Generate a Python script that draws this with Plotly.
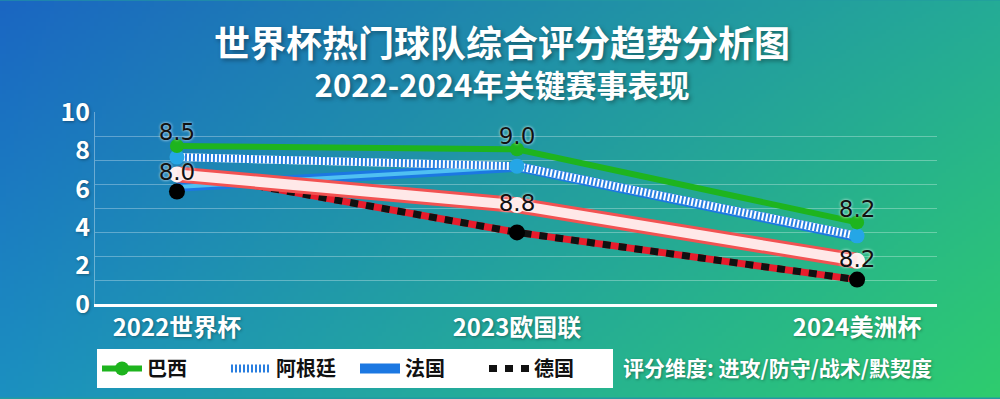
import base64
import struct
import zlib
import plotly.graph_objects as go

# ---------------- data ----------------
categories = ["2022世界杯", "2023欧国联", "2024美洲杯"]
brazil = [8.23, 8.06, 4.25]
brazil_labels = ["8.5", "9.0", "8.2"]
argentina = [7.65, 7.18, 3.55]
france = [6.1, 7.15, 3.5]
germany_line = [6.9, 3.73, 1.27]
germany_markers = [5.86, 3.73, 1.27]
highlight = [6.75, 5.15, 2.25]
highlight_labels = ["8.0", "8.8", "8.2"]
y_label_ticks = [0, 2, 4, 6, 8, 10]
grid_ticks = [0, 1.25, 2.5, 3.75, 5, 6.25, 7.5, 8.75, 10]

title_line1 = "世界杯热门球队综合评分趋势分析图"
title_line2 = "2022-2024年关键赛事表现"
note_text = "评分维度: 进攻/防守/战术/默契度"

# ---------------- geometry ----------------
W, H = 1000, 399
ML, MR, MT, MB = 95, 63, 112, 94
PW, PH = W - ML - MR, H - MT - MB


def px_x(x):
    return (x - ML) / PW


def px_y(y):
    return (H - MB - y) / PH


# ---------------- background gradient (PNG) ----------------
def make_bg(w=250, h=100):
    tl = (26, 102, 194)
    tr = (36, 171, 150)
    bl = (27, 144, 192)
    br = (46, 204, 110)
    rows = []
    for j in range(h):
        fy = j / (h - 1)
        row = bytearray([0])
        for i in range(w):
            fx = i / (w - 1)
            for k in range(3):
                v = (tl[k] * (1 - fx) * (1 - fy) + tr[k] * fx * (1 - fy)
                     + bl[k] * (1 - fx) * fy + br[k] * fx * fy)
                row.append(max(0, min(255, int(round(v)))))
        rows.append(bytes(row))
    raw = b"".join(rows)

    def chunk(t, d):
        c = struct.pack(">I", len(d)) + t + d
        return c + struct.pack(">I", zlib.crc32(t + d) & 0xffffffff)

    png = (b"\x89PNG\r\n\x1a\n"
           + chunk(b"IHDR", struct.pack(">IIBBBBB", w, h, 8, 2, 0, 0, 0))
           + chunk(b"IDAT", zlib.compress(raw, 9))
           + chunk(b"IEND", b""))
    return "data:image/png;base64," + base64.b64encode(png).decode()


FONT = "Noto Sans CJK SC"
LABEL_FONT = "DejaVu Sans"

fig = go.Figure()

# France: blue tube
fig.add_trace(go.Scatter(x=categories, y=france, mode="lines", name="法国",
                         line=dict(color="#1c78e2", width=10), legendrank=3))
fig.add_trace(go.Scatter(x=categories, y=france, mode="lines", showlegend=False,
                         line=dict(color="#4fc0f2", width=4), hoverinfo="skip"))

# Germany: black / red dashed
fig.add_trace(go.Scatter(x=categories, y=germany_line, mode="lines", showlegend=False,
                         line=dict(color="#e81c2c", width=7), hoverinfo="skip"))
fig.add_trace(go.Scatter(x=categories, y=germany_line, mode="lines", name="德国",
                         line=dict(color="#111111", width=7, dash="8px,8px"),
                         legendrank=4))

# highlight red/white tube
fig.add_trace(go.Scatter(x=categories, y=highlight, mode="lines+markers", showlegend=False,
                         line=dict(color="#f25252", width=16),
                         marker=dict(color="#fdf0f0", size=16), hoverinfo="skip"))
fig.add_trace(go.Scatter(x=categories, y=highlight, mode="lines", showlegend=False,
                         line=dict(color="#ffe8e8", width=10), hoverinfo="skip"))

# Argentina: white/blue stripes
fig.add_trace(go.Scatter(x=categories, y=argentina, mode="lines", showlegend=False,
                         line=dict(color="#ffffff", width=8), hoverinfo="skip"))
fig.add_trace(go.Scatter(x=categories, y=argentina, mode="lines", name="阿根廷",
                         line=dict(color="#2a7fe0", width=8, dash="2px,2px"),
                         legendrank=2))
fig.add_trace(go.Scatter(x=categories, y=argentina, mode="markers", showlegend=False,
                         marker=dict(color="#25a6e6", size=15), hoverinfo="skip"))

# Brazil: green
fig.add_trace(go.Scatter(x=categories, y=brazil, mode="lines+markers", name="巴西",
                         line=dict(color="#1eb41e", width=6),
                         marker=dict(color="#1eb41e", size=14), legendrank=1))

# Germany markers
fig.add_trace(go.Scatter(x=categories, y=germany_markers, mode="markers", showlegend=False,
                         marker=dict(color="#000000", size=16), hoverinfo="skip"))

# value labels (on the labelled y axis, same range)
label_font = dict(family=LABEL_FONT, size=23, color="#111111",
                  shadow="0px 0px 3px rgba(255,255,255,0.95)")
fig.add_trace(go.Scatter(x=categories, y=brazil, mode="text", text=brazil_labels,
                         textposition="top center", textfont=label_font, yaxis="y2",
                         showlegend=False, hoverinfo="skip"))
fig.add_trace(go.Scatter(x=categories, y=highlight, mode="text", text=highlight_labels,
                         textposition="middle center", textfont=label_font, yaxis="y2",
                         showlegend=False, hoverinfo="skip"))

title_text = ("<span style='font-size:36px'>" + title_line1 + "</span><br>" + title_line2)

fig.update_layout(
    width=W, height=H,
    margin=dict(l=ML, r=MR, t=MT, b=MB),
    paper_bgcolor="#229ba1",
    plot_bgcolor="rgba(0,0,0,0)",
    showlegend=True,
    legend=dict(
        orientation="h", x=px_x(97), xanchor="left", y=px_y(349), yanchor="top",
        bgcolor="#ffffff", borderwidth=0,
        font=dict(family=FONT, size=20, color="#111111", weight="bold"),
        itemwidth=40, entrywidth=74, entrywidthmode="pixels",
    ),
    xaxis=dict(
        type="category", range=[-0.241, 2.235],
        showgrid=False, zeroline=False,
        showline=True, linecolor="#ffffff", linewidth=3,
        ticks="", tickfont=dict(family=FONT, size=24, color="#ffffff", weight="bold",
                                shadow="1px 1px 3px rgba(0,0,0,0.35)"),
    ),
    yaxis=dict(
        range=[0, 10], tickmode="array", tickvals=grid_ticks,
        showticklabels=False, showgrid=True,
        gridcolor="rgba(255,255,255,0.30)", gridwidth=1,
        zeroline=False, showline=True, linecolor="rgba(255,255,255,0.35)", linewidth=1,
    ),
    yaxis2=dict(
        overlaying="y", side="left", range=[0, 10], tickmode="array",
        tickvals=y_label_ticks, ticktext=[str(v) for v in y_label_ticks],
        showgrid=False, zeroline=False, showline=False, ticklabelstandoff=4,
        tickfont=dict(family=FONT, size=25, color="#ffffff", weight="bold",
                      shadow="1px 1px 3px rgba(0,0,0,0.35)"),
    ),
    images=[dict(
        source=make_bg(), xref="paper", yref="paper",
        x=-ML / PW, y=1 + MT / PH, sizex=W / PW, sizey=H / PH,
        xanchor="left", yanchor="top", sizing="stretch", layer="below",
    )],
    annotations=[
        dict(text=title_text, xref="paper", yref="paper", x=px_x(502), y=px_y(60),
             xanchor="center", yanchor="middle", showarrow=False, align="center",
             font=dict(family=FONT, size=31, color="#ffffff", weight="bold",
                       shadow="2px 2px 4px rgba(0,0,0,0.35)")),
        dict(text=note_text, xref="paper", yref="paper", x=px_x(621), y=px_y(368),
             xanchor="left", yanchor="middle", showarrow=False,
             font=dict(family=FONT, size=21, color="#ffffff", weight="bold",
                       shadow="1px 1px 3px rgba(0,0,0,0.35)")),
    ],
)

fig.write_html("out.html", config={"displayModeBar": False},
               post_script="document.body.style.margin='0';")
